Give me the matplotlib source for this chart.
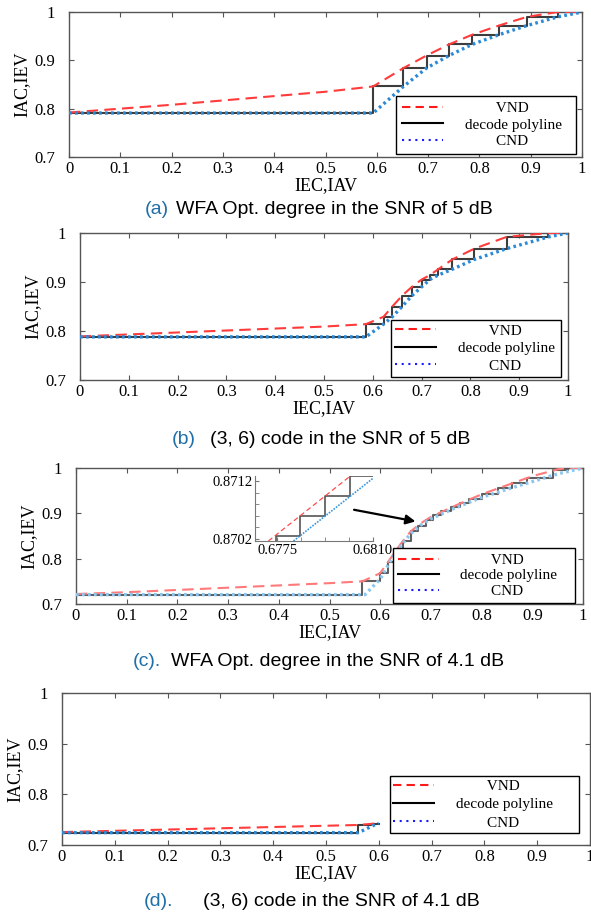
# EXIT charts of the four decoder set-ups, VND / CND curves with the decode polyline
import numpy as np
import matplotlib
matplotlib.use('Agg')
import matplotlib.pyplot as plt
from matplotlib.lines import Line2D

# ---- data ----
# (a) WFA Opt. degree, SNR 5 dB
vnd_a_x = [0, 0.1, 0.2, 0.3, 0.4, 0.5, 0.593, 0.652, 0.697, 0.741, 0.786, 0.838, 0.893, 0.953, 1.0]
vnd_a_y = [0.792, 0.800, 0.808, 0.817, 0.826, 0.835, 0.846, 0.884, 0.910, 0.933, 0.953, 0.972, 0.990, 1.0, 1.0]
stair_a_x = [0, 0.593, 0.652, 0.697, 0.741, 0.786, 0.838, 0.893, 0.953, 1.0]
stair_a_y = [0.791, 0.846, 0.884, 0.910, 0.933, 0.953, 0.972, 0.990, 1.0, 1.0]
cnd_a_x = [0, 0.593, 0.652, 0.697, 0.741, 0.786, 0.838, 0.893, 0.953, 1.0]
cnd_a_y = [0.791, 0.791, 0.846, 0.884, 0.910, 0.933, 0.953, 0.972, 0.990, 1.0]

# (b) (3,6) code, SNR 5 dB
vnd_b_x = [0, 0.1, 0.2, 0.3, 0.4, 0.5, 0.586, 0.622, 0.64, 0.66, 0.68, 0.70, 0.717, 0.734, 0.763, 0.808, 0.874, 0.96, 1.0]
vnd_b_y = [0.789, 0.793, 0.797, 0.801, 0.805, 0.809, 0.814, 0.829, 0.85, 0.872, 0.89, 0.905, 0.914, 0.926, 0.946, 0.968, 0.992, 1.0, 1.0]
stair_b_x = [0, 0.586, 0.622, 0.64, 0.66, 0.68, 0.70, 0.717, 0.734, 0.763, 0.808, 0.874, 0.96, 1.0]
stair_b_y = [0.788, 0.814, 0.829, 0.85, 0.872, 0.89, 0.905, 0.914, 0.926, 0.946, 0.968, 0.992, 1.0, 1.0]
cnd_b_x = [0, 0.586, 0.622, 0.64, 0.66, 0.68, 0.70, 0.717, 0.734, 0.763, 0.808, 0.874, 0.96, 1.0]
cnd_b_y = [0.788, 0.788, 0.814, 0.829, 0.85, 0.872, 0.89, 0.905, 0.914, 0.926, 0.946, 0.968, 0.992, 1.0]

# (c) WFA Opt. degree, SNR 4.1 dB
vnd_c_x = [0, 0.1, 0.2, 0.3, 0.4, 0.5, 0.565, 0.60, 0.62, 0.64, 0.66, 0.68, 0.70, 0.75, 0.80, 0.85, 0.90, 0.95, 0.97, 1.0]
vnd_c_y = [0.722, 0.726, 0.731, 0.736, 0.741, 0.746, 0.750, 0.768, 0.80, 0.832, 0.86, 0.878, 0.892, 0.918, 0.942, 0.962, 0.982, 0.997, 1.0, 1.0]
stair_c_x = [0, 0.565, 0.599, 0.615, 0.63, 0.645, 0.66, 0.675, 0.69, 0.705, 0.72, 0.74, 0.757, 0.776, 0.80, 0.833, 0.86, 0.89, 0.94, 0.97, 1.0]
stair_c_y = [0.7207, 0.750, 0.768, 0.792, 0.816, 0.840, 0.86, 0.873, 0.886, 0.896, 0.905, 0.915, 0.923, 0.932, 0.942, 0.956, 0.966, 0.978, 0.995, 1.0, 1.0]
cnd_c_x = [0, 0.57, 0.60, 0.62, 0.64, 0.66, 0.68, 0.70, 0.75, 0.80, 0.85, 0.90, 0.95, 1.0]
cnd_c_y = [0.7207, 0.7207, 0.755, 0.795, 0.828, 0.855, 0.874, 0.888, 0.913, 0.935, 0.953, 0.97, 0.987, 1.0]

# (c) zoomed inset
inset_stair_x = [0.67745, 0.67745, 0.67833, 0.67925, 0.68017, 0.6810]
inset_stair_y = [0.87016, 0.87025, 0.87059, 0.87094, 0.87129, 0.87129]
inset_vnd_x = [0.67717, 0.68017]
inset_vnd_y = [0.87016, 0.87129]
inset_cnd_x = [0.67809, 0.6810]
inset_cnd_y = [0.87016, 0.87125]

# (d) (3,6) code, SNR 4.1 dB
vnd_d_x = [0, 0.1, 0.2, 0.3, 0.4, 0.5, 0.561, 0.6]
vnd_d_y = [0.7255, 0.728, 0.7305, 0.733, 0.7355, 0.738, 0.7395, 0.743]
stair_d_x = [0, 0.561, 0.586, 0.6]
stair_d_y = [0.7244, 0.7395, 0.742, 0.742]
cnd_d_x = [0, 0.561, 0.575, 0.586, 0.6]
cnd_d_y = [0.7244, 0.7244, 0.731, 0.737, 0.743]

xticks = np.arange(0, 1.01, 0.1)
xticklabels = ['0', '0.1', '0.2', '0.3', '0.4', '0.5', '0.6', '0.7', '0.8', '0.9', '1']
yticks = [0.7, 0.8, 0.9, 1.0]
yticklabels = ['0.7', '0.8', '0.9', '1']
legend_labels = ['        VND', 'decode polyline', '        CND']

captions = [('(a)', 'WFA Opt. degree in the SNR of 5 dB'),
            ('(b)', '(3, 6) code in the SNR of 5 dB'),
            ('(c).', 'WFA Opt. degree in the SNR of 4.1 dB'),
            ('(d).', '(3, 6) code in the SNR of 4.1 dB')]

serif = 'Liberation Serif'
sans = 'Liberation Sans'
W, H = 591, 915


def px_axes(l, r, t, b):
    # axes rectangle from pixel edges
    return [l / W, 1 - b / H, (r - l) / W, (b - t) / H]


def setup(ax):
    ax.set_xlim(0, 1)
    ax.set_ylim(0.7, 1.0)
    ax.set_xticks(xticks)
    ax.set_xticklabels(xticklabels, fontfamily=serif, fontsize=12)
    ax.set_yticks(yticks)
    ax.set_yticklabels(yticklabels, fontfamily=serif, fontsize=12)
    ax.tick_params(direction='in', top=True, right=True, length=3.5, width=0.8,
                   color='#555555')
    ax.tick_params(axis='x', pad=3)
    ax.tick_params(axis='y', pad=10)
    for s in ax.spines.values():
        s.set_color('#555555')
        s.set_linewidth(1.0)
    ax.set_xlabel('IEC,IAV', fontfamily=serif, fontsize=13, labelpad=0)
    ax.set_ylabel('IAC,IEV', fontfamily=serif, fontsize=13, labelpad=3)


def add_legend(ax, bbox, spacing, bpad):
    handles = [Line2D([], [], color='#ff1a1a', lw=1.5, ls=(0, (4, 2.5))),
               Line2D([], [], color='black', lw=1.5),
               Line2D([], [], color='#1a1aff', lw=1.5, ls=(0, (1, 2.2)))]
    leg = ax.legend(handles, legend_labels, loc='lower left', bbox_to_anchor=bbox,
                    mode='expand', borderaxespad=0, fancybox=False, framealpha=1,
                    edgecolor='black', handlelength=2.7, handletextpad=1.4,
                    labelspacing=spacing, borderpad=bpad,
                    prop={'family': serif, 'size': 11})
    leg.get_frame().set_linewidth(1.0)
    return leg


def draw(ax, vx, vy, sx, sy, cx, cy, red, gray, blue):
    ax.plot(vx, vy, color=red, lw=1.5, ls=(0, (5.5, 3)), zorder=3)
    ax.step(sx, sy, where='post', color=gray, lw=1.5, zorder=2)
    ax.plot(cx, cy, color=blue, lw=2.4, ls=(0, (0.8, 1.0)), zorder=4)


fig = plt.figure(figsize=(W / 100, H / 100), dpi=100)

# (a)
ax1 = fig.add_axes(px_axes(69, 582, 12, 157))
draw(ax1, vnd_a_x, vnd_a_y, stair_a_x, stair_a_y, cnd_a_x, cnd_a_y, '#ff3b3b', '#3c3c3c', '#2a8ad8')
setup(ax1)
add_legend(ax1, (0.638, 0.02, 0.35, 0.4), 0.2, 0.37)

# (b)
ax2 = fig.add_axes(px_axes(80, 568, 233, 380))
draw(ax2, vnd_b_x, vnd_b_y, stair_b_x, stair_b_y, cnd_b_x, cnd_b_y, '#ff3b3b', '#3c3c3c', '#2a8ad8')
setup(ax2)
add_legend(ax2, (0.637, 0.022, 0.348, 0.4), 0.25, 0.27)

# (c)
ax3 = fig.add_axes(px_axes(76, 583, 468, 604))
draw(ax3, vnd_c_x, vnd_c_y, stair_c_x, stair_c_y, cnd_c_x, cnd_c_y, '#ff7a7a', '#606060', '#8cc6ee')
setup(ax3)
add_legend(ax3, (0.625, 0.008, 0.36, 0.4), 0.12, 0.32)
ax3.annotate('', xy=(0.675, 0.881), xytext=(0.543, 0.909),
             arrowprops=dict(arrowstyle='-|>', color='black', lw=1.6, mutation_scale=14))

# inset of (c)
axi = fig.add_axes(px_axes(255, 373, 476, 541))
axi.step(inset_stair_x, inset_stair_y, where='post', color='#555555', lw=1.2)
axi.plot(inset_vnd_x, inset_vnd_y, color='#ff4d4d', lw=0.9, ls=(0, (4, 2.5)))
axi.plot(inset_cnd_x, inset_cnd_y, color='#3a96dc', lw=1.2, ls=(0, (1, 0.8)))
axi.set_xlim(0.67668, 0.6810)
axi.set_ylim(0.87016, 0.87129)
axi.set_xticks([0.6775, 0.6810])
axi.set_xticklabels(['0.6775', '0.6810'], fontfamily=serif, fontsize=10.5)
axi.set_xticks(np.linspace(0.6775, 0.6810, 5)[1:-1], minor=True)
axi.set_yticks([0.8702, 0.8712])
axi.set_yticklabels(['0.8702', '0.8712'], fontfamily=serif, fontsize=10.5)
axi.set_yticks([0.8704, 0.8706, 0.8708, 0.8710], minor=True)
axi.tick_params(which='both', direction='in', length=3, color='#777777', pad=2)
axi.spines['top'].set_visible(False)
axi.spines['right'].set_visible(False)
for s in ['left', 'bottom']:
    axi.spines[s].set_color('#777777')
axi.patch.set_alpha(0)

# (d)
ax4 = fig.add_axes(px_axes(62, 590, 693, 845))
draw(ax4, vnd_d_x, vnd_d_y, stair_d_x, stair_d_y, cnd_d_x, cnd_d_y, '#ff3b3b', '#3c3c3c', '#2a8ad8')
setup(ax4)
add_legend(ax4, (0.621, 0.079, 0.359, 0.4), 0.3, 0.22)

# captions: blue label + black text
cap_pos = [(145, 176, 210), (172, 210, 440), (133, 171, 661), (144, 203, 901)]
for (lab, txt), (xl, xt, yc) in zip(captions, cap_pos):
    fig.text(xl / W, 1 - yc / H, lab, ha='left', va='center', color='#1f6fa8',
             fontfamily=sans, fontsize=14)
    fig.text(xt / W, 1 - yc / H, txt, ha='left', va='center', color='black',
             fontfamily=sans, fontsize=14)

fig.savefig('out.png', dpi=100)
